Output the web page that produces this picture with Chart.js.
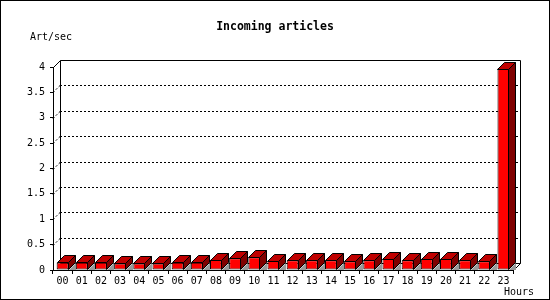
<!DOCTYPE html>
<html>
<head>
<meta charset="utf-8">
<script src="https://cdn.jsdelivr.net/npm/chart.js@4"></script>
<style>
  html, body { margin: 0; padding: 0; background: #fff; }
  canvas { display: block; }
</style>
</head>
<body>
<canvas id="chart" width="550" height="300"></canvas>
<script>
// data
const hours = ["00", "01", "02", "03", "04", "05", "06", "07", "08", "09", "10", "11",
               "12", "13", "14", "15", "16", "17", "18", "19", "20", "21", "22", "23"]
const artPerSec = [0.15, 0.15, 0.15, 0.13, 0.13, 0.13, 0.15, 0.15, 0.20, 0.23, 0.25, 0.18,
                   0.19, 0.19, 0.19, 0.17, 0.19, 0.22, 0.19, 0.22, 0.22, 0.19, 0.17, 3.97]
const yMax = 4
const yStep = 0.5

const titleText = "Incoming articles"
const yUnit = "Art/sec"
const xUnit = "Hours"

const DEPTH = 7
const MONO = "'DejaVu Sans Mono', monospace"

// 3d walls, floor, back grid and the extra faces of every bar
const box3d = {
    id: "box3d",
    beforeDatasetsDraw(chart) {
        const ctx = chart.ctx
        const { left, right, top, bottom } = chart.chartArea
        const y = chart.scales.y
        const d = DEPTH
        ctx.save()
        ctx.lineWidth = 1
        ctx.strokeStyle = "#000"

        // dotted grid on back wall + left wall
        ctx.setLineDash([2, 2])
        y.ticks.forEach(t => {
            if (t.value <= 0 || t.value >= yMax) return
            const py = Math.round(y.getPixelForValue(t.value)) + 0.5
            ctx.beginPath()
            ctx.moveTo(left + d, py - d)
            ctx.lineTo(right + d, py - d)
            ctx.stroke()
            ctx.beginPath()
            ctx.moveTo(left, py)
            ctx.lineTo(left + d, py - d)
            ctx.stroke()
        })
        ctx.setLineDash([])

        // back wall frame
        const L = Math.round(left) + d + 0.5
        const R = Math.round(right) + d + 0.5
        const T = Math.round(top) - d + 0.5
        const B = Math.round(bottom) - d + 0.5
        ctx.beginPath()
        ctx.moveTo(Math.round(left) + 0.5, Math.round(top) + 0.5)
        ctx.lineTo(L, T)
        ctx.lineTo(R, T)
        ctx.lineTo(R, B)
        ctx.lineTo(Math.round(right) + 0.5, Math.round(bottom) + 0.5)
        ctx.moveTo(L, T)
        ctx.lineTo(L, B)
        ctx.lineTo(R, B)
        ctx.stroke()

        // floor shadow of each bar
        const meta = chart.getDatasetMeta(0)
        ctx.fillStyle = "#999999"
        meta.data.forEach(bar => {
            const x2 = Math.round(bar.x + bar.width / 2)
            const b = Math.round(bar.base)
            ctx.beginPath()
            ctx.moveTo(x2, b)
            ctx.lineTo(x2 + d, b)
            ctx.lineTo(x2 + d, b - d)
            ctx.closePath()
            ctx.fill()
        })
        ctx.restore()
    },
    afterDatasetsDraw(chart) {
        const ctx = chart.ctx
        const d = DEPTH
        const meta = chart.getDatasetMeta(0)
        ctx.save()
        ctx.lineWidth = 1
        ctx.strokeStyle = "#000"
        meta.data.forEach(bar => {
            const x1 = Math.round(bar.x - bar.width / 2) + 0.5
            const x2 = Math.round(bar.x + bar.width / 2) - 0.5
            const t = Math.round(bar.y) + 0.5
            const b = Math.round(bar.base) - 0.5
            // top face
            ctx.fillStyle = "#c00000"
            ctx.beginPath()
            ctx.moveTo(x1, t)
            ctx.lineTo(x1 + d, t - d)
            ctx.lineTo(x2 + d, t - d)
            ctx.lineTo(x2, t)
            ctx.closePath()
            ctx.fill()
            ctx.stroke()
            // side face
            ctx.fillStyle = "#800000"
            ctx.beginPath()
            ctx.moveTo(x2, t)
            ctx.lineTo(x2 + d, t - d)
            ctx.lineTo(x2 + d, b - d)
            ctx.lineTo(x2, b)
            ctx.closePath()
            ctx.fill()
            ctx.stroke()
        })
        ctx.restore()
    },
    afterDraw(chart) {
        const ctx = chart.ctx
        ctx.save()
        ctx.fillStyle = "#000"
        ctx.textBaseline = "middle"
        ctx.font = "bold 11.5px " + MONO
        ctx.textAlign = "center"
        ctx.fillText(titleText, 275, 27)
        ctx.font = "10px " + MONO
        ctx.textAlign = "left"
        ctx.fillText(yUnit, 30, 37)
        ctx.fillText(xUnit, 504, 292)
        // outer frame
        ctx.strokeStyle = "#000"
        ctx.lineWidth = 1
        ctx.strokeRect(0.5, 0.5, 549, 299)
        ctx.restore()
    }
}

new Chart(document.getElementById("chart"), {
    type: "bar",
    data: {
        labels: hours,
        datasets: [{
            label: yUnit,
            data: artPerSec,
            backgroundColor: "#ff0000",
            borderColor: "#000",
            borderWidth: 1,
            borderSkipped: false,
            barPercentage: 0.62,
            categoryPercentage: 1
        }]
    },
    options: {
        responsive: false,
        animation: false,
        devicePixelRatio: 1,
        layout: { padding: { top: 67, right: 37, left: 0, bottom: 0 } },
        plugins: {
            legend: { display: false },
            title: { display: false },
            tooltip: { enabled: false }
        },
        scales: {
            x: {
                grid: { offset: true, drawOnChartArea: false, tickLength: 4, color: "#000" },
                border: { display: true, color: "#000" },
                ticks: { font: { family: MONO, size: 10 }, color: "#000", padding: 1, autoSkip: false, maxRotation: 0 },
                afterFit(s) { s.height = 30 }
            },
            y: {
                min: 0,
                max: yMax,
                grid: { drawOnChartArea: false, tickLength: 3, color: "#000" },
                border: { display: true, color: "#000" },
                ticks: {
                    stepSize: yStep,
                    font: { family: MONO, size: 10 },
                    color: "#000",
                    padding: 5,
                    callback: v => String(v)
                },
                afterFit(s) { s.width = 53 }
            }
        }
    },
    plugins: [box3d]
});
</script>
</body>
</html>
